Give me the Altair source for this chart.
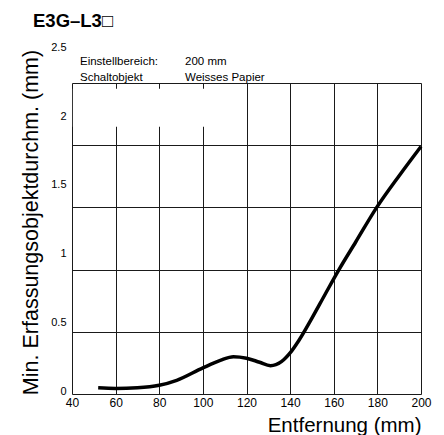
import altair as alt
import pandas as pd

# ---- data ----
distance_mm = [52, 60, 70, 80, 88, 100, 108, 114, 120, 126, 131, 136, 140,
               144, 150, 156, 162.4, 170, 179.7, 190, 200]
min_diameter_mm = [0.05, 0.045, 0.05, 0.07, 0.11, 0.21, 0.27, 0.30, 0.288, 0.255,
                   0.228, 0.26, 0.33, 0.43, 0.61, 0.80, 1.0, 1.22, 1.5, 1.755, 1.99]
x_ticks = [40, 60, 80, 100, 120, 140, 160, 180, 200]
y_ticks = [0, 0.5, 1, 1.5, 2, 2.5]
chart_title = "E3G–L3□"
info_labels = ["Einstellbereich:", "Schaltobjekt"]
info_values = ["200 mm", "Weisses Papier"]
x_title = "Entfernung (mm)"
y_title = "Min. Erfassungsobjektdurchm. (mm)"
# white box that hides the grid under the annotation (data units)
box_x = [40.4, 110]
box_y = [2.148, 2.454]

FONT = "Liberation Sans"
NARROW = "Liberation Sans Narrow, Arial Narrow, Liberation Sans"

curve_df = pd.DataFrame({"d": distance_mm, "m": min_diameter_mm})
box_df = pd.DataFrame({"x1": [box_x[0]], "x2": [box_x[1]], "y1": [box_y[0]], "y2": [box_y[1]]})

xscale = alt.Scale(domain=[40, 200], nice=False, zero=False)
yscale = alt.Scale(domain=[0, 2.5], nice=False)

x_axis = alt.Axis(values=x_ticks, title=x_title, grid=True, gridColor="#1a1a1a",
                  gridWidth=1, gridOpacity=1, domain=False, ticks=False,
                  labelFont=FONT, labelFontSize=12, labelColor="black", labelPadding=3,
                  labelFlush=False,
                  titleFont=FONT, titleFontSize=20.5, titleFontWeight="normal",
                  titleColor="black", titleAnchor="end", titleAlign="right",
                  titleBaseline="middle", titleX=349, titleY=31)
y_axis = alt.Axis(values=y_ticks, title=y_title, grid=True, gridColor="#1a1a1a",
                  gridWidth=1, gridOpacity=1, domain=False, ticks=False,
                  labelFont=FONT, labelFontSize=11, labelColor="black", labelPadding=6,
                  labelExpr="datum.value == 0 ? '0' : format(datum.value, '~g')",
                  labelOffset=alt.ExprRef("-(3 + 13*datum.value)"),
                  titleFont=FONT, titleFontSize=21.5, titleFontWeight="normal",
                  titleColor="black", titleAngle=270, titleAlign="center",
                  titleBaseline="middle", titleX=-41, titleY=139)

curve = alt.Chart(curve_df).mark_line(color="black", strokeWidth=3.5,
                                      interpolate="monotone", clip=False).encode(
    x=alt.X("d:Q", scale=xscale, axis=x_axis),
    y=alt.Y("m:Q", scale=yscale, axis=y_axis),
)

box = alt.Chart(box_df).mark_rect(color="white", opacity=1).encode(
    x=alt.X("x1:Q", scale=xscale), x2="x2:Q",
    y=alt.Y("y1:Q", scale=yscale), y2="y2:Q",
)

def label(text, x, y, size, weight="normal", font=FONT, align="left"):
    return alt.Chart(pd.DataFrame({"t": [text]})).mark_text(
        align=align, baseline="middle", fontSize=size, fontWeight=weight,
        font=font, color="black").encode(
        text="t:N", x=alt.value(x), y=alt.value(y))

texts = [
    label(chart_title, -39, -62, 18.5, "bold"),
    label(info_labels[0], 8, -21, 11.5, font=NARROW),
    label(info_values[0], 113, -21, 11.5, font=NARROW),
    label(info_labels[1], 8, -5, 11.5, font=NARROW),
    label(info_values[1], 113, -5, 11.5, font=NARROW),
]

chart = alt.layer(box, curve, *texts).properties(
    width=349, height=311,
    autosize=alt.AutoSizeParams(type="none"),
    padding={"left": 64, "top": 75, "right": 15, "bottom": 45},
).configure_view(stroke="black", strokeWidth=1.5).configure(background="white")

chart.save("out.html", embed_options={"renderer": "svg", "actions": False})
